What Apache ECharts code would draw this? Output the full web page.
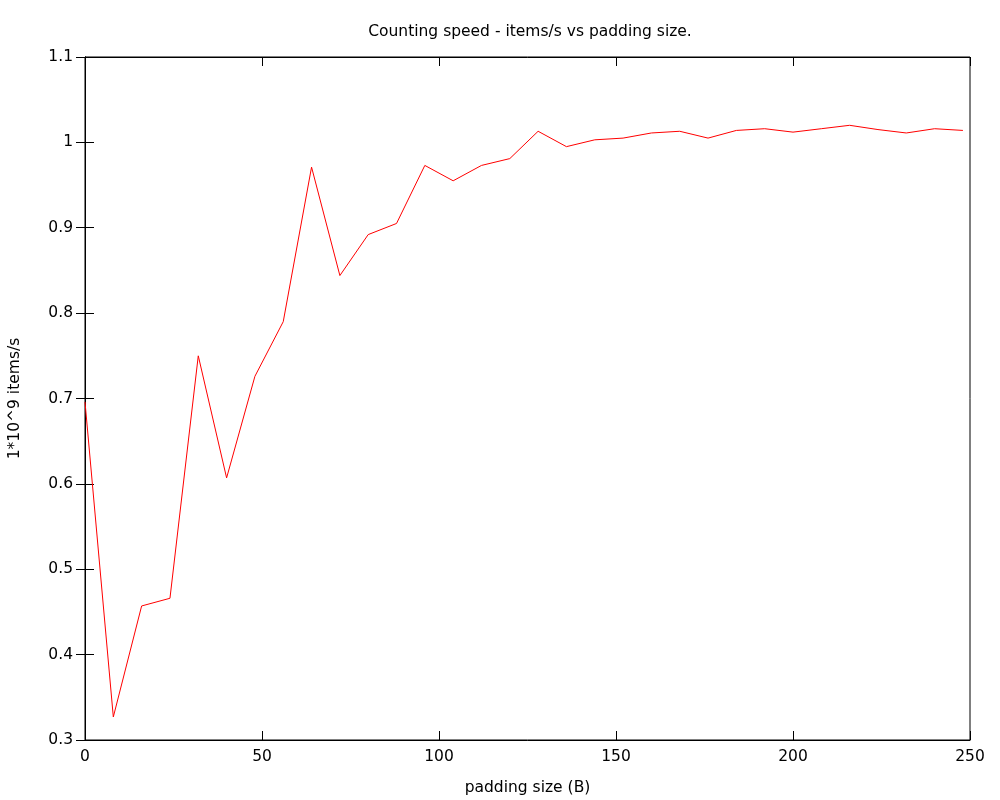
<!DOCTYPE html>
<html>
<head>
<meta charset="utf-8">
<script src="https://cdn.jsdelivr.net/npm/echarts@6/dist/echarts.min.js"></script>
<style>
html,body{margin:0;padding:0;background:#fff;}
#chart{width:1000px;height:800px;}
</style>
</head>
<body>
<div id="chart"></div>
<script>
const paddingSizes = [0, 8, 16, 24, 32, 40, 48, 56, 64, 72, 80, 88, 96, 104, 112, 120, 128, 136, 144, 152, 160, 168, 176, 184, 192, 200, 208, 216, 224, 232, 240, 248];
const itemsPerSec = [0.696, 0.327, 0.457, 0.466, 0.750, 0.607, 0.726, 0.790, 0.971, 0.844, 0.892, 0.905, 0.973, 0.955, 0.973, 0.981, 1.013, 0.995, 1.003, 1.005, 1.011, 1.013, 1.005, 1.014, 1.016, 1.012, 1.016, 1.020, 1.015, 1.011, 1.016, 1.014];
const titleText = 'Counting speed - items/s vs padding size.';
const xLabel = 'padding size (B)';
const yLabel = '1*10^9 items/s';

const FONT = 'DejaVu Sans';
const FS = 15.5;
const chart = echarts.init(document.getElementById('chart'), null, {renderer: 'canvas'});
const seriesData = paddingSizes.map((x, i) => [x, itemsPerSec[i]]);
const yFmt = v => String(parseFloat(v.toFixed(1)));
const tickStyle = {show: true, inside: true, length: 9, lineStyle: {color: '#000', width: 1}};
chart.setOption({
  animation: false,
  backgroundColor: '#fff',
  title: {
    text: titleText, left: 525, top: 19, textAlign: 'center',
    textStyle: {fontFamily: FONT, fontSize: FS, fontWeight: 'normal', color: '#000'}
  },
  grid: {left: 85, right: 30, top: 57, bottom: 60, show: true, borderColor: '#000', borderWidth: 1, containLabel: false, outerBoundsMode: 'none'},
  xAxis: [{
    type: 'value', min: 0, max: 250, interval: 50, position: 'bottom',
    name: xLabel, nameLocation: 'middle', nameGap: 40,
    nameTextStyle: {fontFamily: FONT, fontSize: FS, color: '#000'},
    axisLine: {show: true, lineStyle: {color: '#000', width: 1}},
    axisTick: tickStyle,
    axisLabel: {fontFamily: FONT, fontSize: FS, color: '#000', margin: 9},
    splitLine: {show: false}
  }, {
    type: 'value', min: 0, max: 250, interval: 50, position: 'top',
    axisLine: {show: true, lineStyle: {color: '#000', width: 1}},
    axisTick: tickStyle, axisLabel: {show: false}, splitLine: {show: false}
  }],
  yAxis: [{
    type: 'value', min: 0.3, max: 1.1, interval: 0.1, position: 'left',
    name: yLabel, nameLocation: 'middle', nameGap: 62, nameRotate: 90,
    nameTextStyle: {fontFamily: FONT, fontSize: FS, color: '#000'},
    axisLine: {show: true, lineStyle: {color: '#000', width: 1}},
    axisTick: tickStyle,
    axisLabel: {fontFamily: FONT, fontSize: FS, color: '#000', margin: 12, formatter: yFmt},
    splitLine: {show: false}
  }, {
    type: 'value', min: 0.3, max: 1.1, interval: 0.1, position: 'right',
    axisLine: {show: true, lineStyle: {color: '#000', width: 1}},
    axisTick: tickStyle, axisLabel: {show: false}, splitLine: {show: false}
  }],
  series: [{
    type: 'line', data: seriesData, showSymbol: false, symbol: 'none',
    lineStyle: {color: '#ff0000', width: 1}, itemStyle: {color: '#ff0000'},
    xAxisIndex: 0, yAxisIndex: 0
  }]
});
</script>
</body>
</html>
